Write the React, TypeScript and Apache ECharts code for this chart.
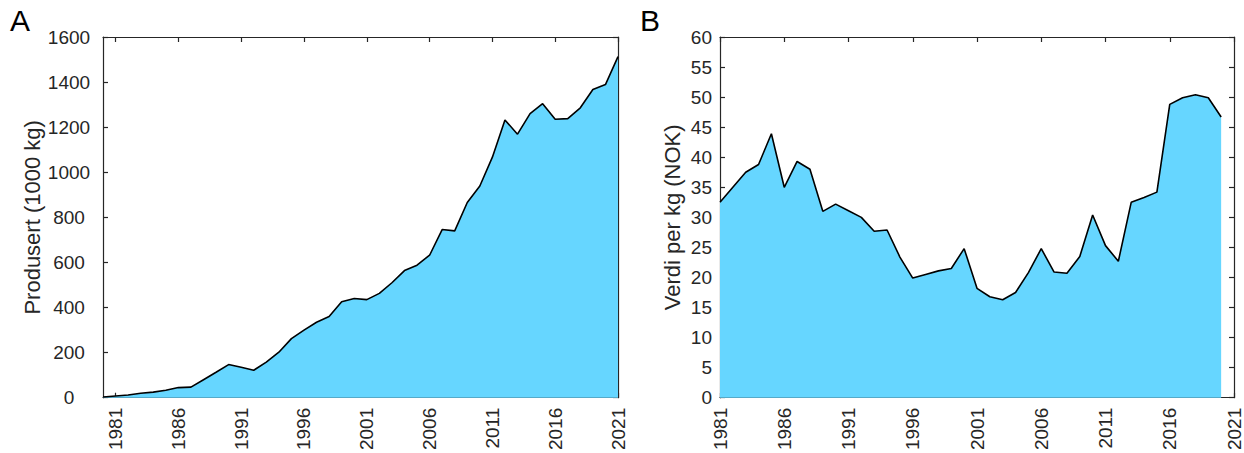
import React, { useEffect, useRef } from "react";
import * as echarts from "echarts";

const prodYears = [1980, 1981, 1982, 1983, 1984, 1985, 1986, 1987, 1988, 1989, 1990, 1991, 1992, 1993, 1994, 1995, 1996, 1997, 1998, 1999, 2000, 2001, 2002, 2003, 2004, 2005, 2006, 2007, 2008, 2009, 2010, 2011, 2012, 2013, 2014, 2015, 2016, 2017, 2018, 2019, 2020, 2021];
const produsert = [3, 8, 12, 20, 25, 33, 45, 47, 80, 113, 147, 135, 122, 158, 202, 262, 300, 335, 360, 426, 440, 435, 463, 510, 564, 588, 632, 746, 740, 866, 939, 1067, 1232, 1169, 1260, 1304, 1235, 1238, 1286, 1367, 1389, 1513];

const priceYears = [1981, 1982, 1983, 1984, 1985, 1986, 1987, 1988, 1989, 1990, 1991, 1992, 1993, 1994, 1995, 1996, 1997, 1998, 1999, 2000, 2001, 2002, 2003, 2004, 2005, 2006, 2007, 2008, 2009, 2010, 2011, 2012, 2013, 2014, 2015, 2016, 2017, 2018, 2019, 2020];
const verdiPerKg = [32.5, 35.0, 37.5, 38.8, 43.9, 35.0, 39.3, 38.0, 31.0, 32.2, 31.1, 30.0, 27.7, 27.9, 23.4, 19.9, 20.5, 21.1, 21.5, 24.8, 18.2, 16.8, 16.3, 17.5, 20.8, 24.8, 20.9, 20.7, 23.5, 30.4, 25.3, 22.7, 32.5, 33.3, 34.2, 48.8, 49.9, 50.4, 49.9, 46.7];

const xTicks = [1981, 1986, 1991, 1996, 2001, 2006, 2011, 2016, 2021];

const FONT = "'Liberation Sans', Arial, Helvetica, sans-serif";
const AX = "#262626";
const FILL = "#66D6FF";

export default function App() {
  const ref = useRef<HTMLDivElement>(null);
  useEffect(() => {
    if (!ref.current) return;
    const chart = echarts.init(ref.current, undefined, { renderer: "svg" });
    const fmt = (v: number) => String(v);
    const axLine = { show: true, onZero: false, lineStyle: { color: AX, width: 1.2 } };
    const tick = (vals?: number[]) => ({
      show: true,
      inside: true,
      length: 5,
      lineStyle: { color: AX, width: 1.2 },
      ...(vals ? { customValues: vals } : {}),
    });
    const xBottom = (grid: number, min: number) => ({
      type: "value",
      gridIndex: grid,
      position: "bottom",
      min,
      max: 2021,
      axisLine: axLine,
      axisTick: tick(xTicks),
      axisLabel: {
        customValues: xTicks,
        rotate: 90,
        margin: 10,
        color: AX,
        fontSize: 19,
        fontFamily: FONT,
        showMinLabel: true,
        showMaxLabel: true,
        formatter: fmt,
      },
      splitLine: { show: false },
    });
    const xTop = (grid: number, min: number) => ({
      type: "value",
      gridIndex: grid,
      position: "top",
      min,
      max: 2021,
      axisLine: axLine,
      axisTick: tick(xTicks),
      axisLabel: { show: false },
      splitLine: { show: false },
    });
    const yAx = (grid: number, pos: string, max: number, interval: number, label: any, name?: string, nameGap?: number) => ({
      type: "value",
      gridIndex: grid,
      position: pos,
      min: 0,
      max,
      interval,
      axisLine: axLine,
      axisTick: tick(),
      axisLabel: label,
      splitLine: { show: false },
      ...(name
        ? {
            name,
            nameLocation: "middle",
            nameRotate: 90,
            nameGap,
            nameTextStyle: { color: AX, fontSize: 22, fontFamily: FONT },
          }
        : {}),
    });
    chart.setOption({
      animation: false,
      backgroundColor: "#ffffff",
      grid: [
        { left: 103, top: 37, width: 515, height: 364 },
        { left: 720, top: 37, width: 514, height: 364 },
      ],
      xAxis: [xBottom(0, 1980), xTop(0, 1980), xBottom(1, 1981), xTop(1, 1981)],
      yAxis: [
        yAx(0, "left", 1600, 200, { color: AX, fontSize: 19, fontFamily: FONT, align: "center", margin: 34, formatter: fmt }, "Produsert (1000 kg)", 60),
        yAx(0, "right", 1600, 200, { show: false }),
        yAx(1, "left", 60, 5, { color: AX, fontSize: 19, fontFamily: FONT, margin: 8, formatter: fmt }, "Verdi per kg (NOK)", 37),
        yAx(1, "right", 60, 5, { show: false }),
      ],
      series: [
        {
          type: "line",
          xAxisIndex: 0,
          yAxisIndex: 0,
          data: prodYears.map((y, i) => [y, produsert[i]]),
          symbol: "none",
          lineStyle: { color: "#000000", width: 1.6 },
          areaStyle: { color: FILL, opacity: 1 },
          z: 1,
        },
        {
          type: "line",
          xAxisIndex: 2,
          yAxisIndex: 2,
          data: priceYears.map((y, i) => [y, verdiPerKg[i]]),
          symbol: "none",
          lineStyle: { color: "#000000", width: 1.6 },
          areaStyle: { color: FILL, opacity: 1 },
          z: 1,
        },
      ],
      graphic: [
        { type: "text", left: 10, top: 5, style: { text: "A", fontSize: 30, fontFamily: FONT, fill: "#000" } },
        { type: "text", left: 640, top: 5, style: { text: "B", fontSize: 30, fontFamily: FONT, fill: "#000" } },
      ],
    });
    return () => chart.dispose();
  }, []);
  return (
    <div
      ref={ref}
      style={{ position: "fixed", left: 0, top: 0, width: 1244, height: 453, background: "#fff" }}
    />
  );
}
